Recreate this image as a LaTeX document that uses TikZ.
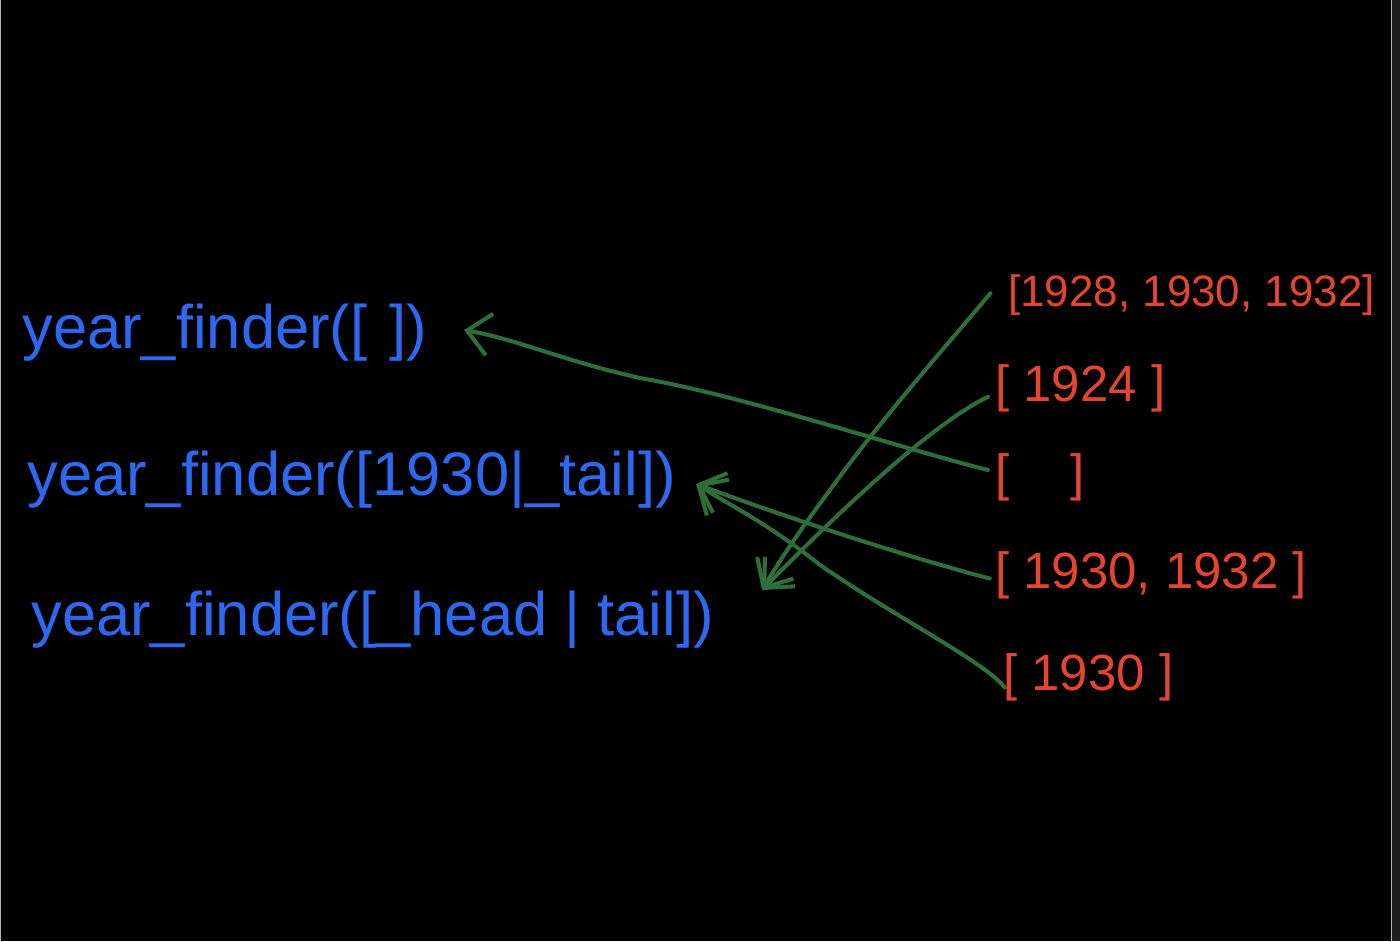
\documentclass[tikz,border=0pt]{standalone}
\usepackage{fontspec}
\setmainfont{Liberation Sans}
\usetikzlibrary{arrows.meta}
\definecolor{hblue}{RGB}{45,105,240}
\definecolor{hred}{RGB}{228,68,48}
\definecolor{hgreen}{RGB}{45,110,58}
\definecolor{edgegray}{RGB}{30,30,30}
\begin{document}
\begin{tikzpicture}[x=0.02cm,y=-0.02cm,
  call/.style={text=hblue,font=\fontsize{35}{40}\selectfont,inner sep=0pt,anchor=west},
  lst/.style={text=hred,font=\fontsize{29}{34}\selectfont,inner sep=0pt,anchor=west},
  link/.style={draw=hgreen,line width=2.3pt,line cap=round,line join=round},
  headed/.style={link,-{Straight Barb[length=13pt,width=24pt,line width=2.3pt]}}]
\fill[black] (0,0) rectangle (1400,941);
\useasboundingbox (0,0) rectangle (1400,941);
\fill[edgegray] (1391,0) rectangle (1400,941);
\draw[gray!60,line width=0.4pt] (1391,0) -- (1391,941);
\draw[gray!60,line width=0.6pt] (0.5,0) -- (0.5,941);
% calls
\node[call] (f1) at (22,333) {year\_finder([\hspace{0.35em}])};
\node[call] (f2) at (27,480) {year\_finder([1930|\_tail])};
\node[call] (f3) at (31,620) {year\_finder([\_head | tail])};
% lists
\node[lst,font=\fontsize{25}{30}\selectfont] (r1) at (1008,295) {[1928, 1930, 1932]};
\node[lst] (r2) at (995,388) {[ 1924 ]};
\node[lst] (r3) at (995,477) {[\hspace{1.2em}]};
\node[lst] (r4) at (995,575) {[ 1930, 1932 ]};
\node[lst] (r5) at (1003,677) {[ 1930 ]};
% anchor points
\coordinate (t1) at (464,330);
\coordinate (t2) at (696,484);
\coordinate (t3) at (762,590);
% arrows
\draw[headed] ([xshift=-4pt,yshift=4pt]r3.west) .. controls (900,448) and (740,395) .. (640,378) .. controls (560,360) and (520,340) .. (t1);
\draw[headed] ([xshift=-3pt,yshift=-2pt]r4.west) .. controls (900,555) and (780,515) .. (t2);
\draw[headed] ([xshift=1pt,yshift=-6pt]r5.west) .. controls (985,662) and (900,620) .. (820,565) .. controls (770,525) and (730,505) .. (t2);
\draw[headed] ([xshift=-10pt,yshift=1pt]r1.west) .. controls (960,330) and (880,420) .. (830,490) .. controls (800,530) and (780,560) .. (t3);
\draw[headed] ([xshift=-4pt,yshift=-5pt]r2.west) .. controls (940,420) and (860,490) .. (t3);
\end{tikzpicture}
\end{document}
